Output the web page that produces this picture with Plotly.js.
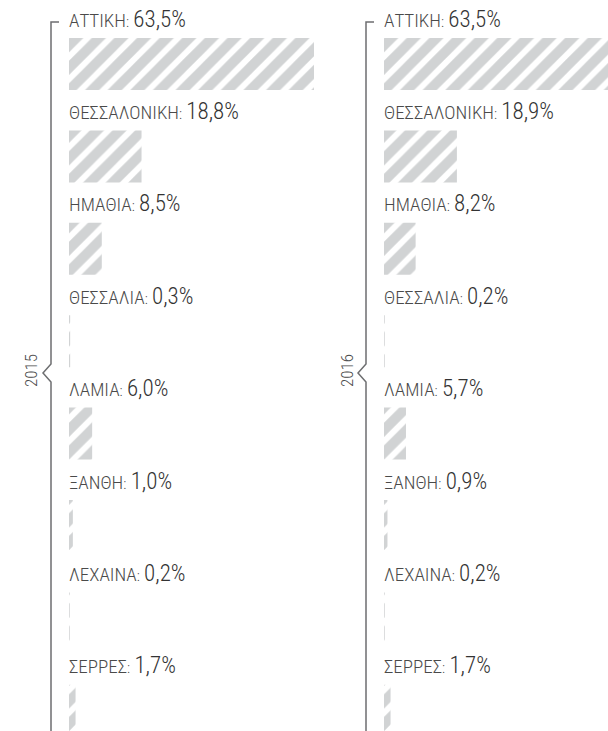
<!DOCTYPE html>
<html>
<head>
<meta charset="utf-8">
<script src="https://cdn.plot.ly/plotly-3.0.1.min.js"></script>
<style>html,body{margin:0;padding:0;background:#fff;}#chart{width:608px;height:731px;}</style>
</head>
<body>
<div id="chart"></div>
<script>
var regions = ["ΑΤΤΙΚΗ", "ΘΕΣΣΑΛΟΝΙΚΗ", "ΗΜΑΘΙΑ", "ΘΕΣΣΑΛΙΑ", "ΛΑΜΙΑ", "ΞΑΝΘΗ", "ΛΕΧΑΙΝΑ", "ΣΕΡΡΕΣ"];
var years = ["2015", "2016"];
var values2015 = [63.5, 18.8, 8.5, 0.3, 6.0, 1.0, 0.2, 1.7];
var values2016 = [63.5, 18.9, 8.2, 0.2, 5.7, 0.9, 0.2, 1.7];

var W = 608, H = 731;
var pxPerUnit = 245 / 63.5;
var rowPitch = 92.4, firstRow = 64;
function px(x) { return x / W; }
function py(y) { return 1 - y / H; }

var idx = regions.map(function (_, i) { return i; });
var pattern = { shape: '/', fgcolor: '#d1d3d4', bgcolor: '#ffffff', size: 16, solidity: 0.62 };

function barTrace(vals, xa) {
  return {
    type: 'bar', orientation: 'h', x: vals, y: idx, xaxis: xa, yaxis: 'y',
    width: 52 / rowPitch, hoverinfo: 'skip',
    marker: { color: '#ffffff', line: { width: 0 }, pattern: pattern }
  };
}

function fmt(v) { return v.toFixed(1).replace('.', ',') + '%'; }

var annotations = [];
[values2015, values2016].forEach(function (vals, k) {
  var xr = k === 0 ? 'x' : 'x2';
  vals.forEach(function (v, i) {
    annotations.push({
      xref: xr, yref: 'y', x: 0, y: i - 45 / rowPitch, xanchor: 'left', yanchor: 'middle',
      xshift: -2, showarrow: false,
      font: { size: 19, color: '#4a4a4a', weight: 300 },
      text: regions[i] + '<span style="font-size:15px">:</span> <span style="font-size:23px;color:#333">' + fmt(v) + '</span>'
    });
  });
});

var panels = [{ line: 51, tick: 59, point: 43, label: 31 }, { line: 366, tick: 374, point: 358, label: 347 }];
var shapes = [];
panels.forEach(function (p, k) {
  var path = 'M' + px(p.tick) + ',' + py(22) +
    ' L' + px(p.line) + ',' + py(22) +
    ' L' + px(p.line) + ',' + py(364) +
    ' L' + px(p.point) + ',' + py(373) +
    ' L' + px(p.line) + ',' + py(382) +
    ' L' + px(p.line) + ',' + py(735);
  shapes.push({ type: 'path', xref: 'paper', yref: 'paper', path: path, line: { color: '#6d6e70', width: 1.5 } });
  annotations.push({
    xref: 'paper', yref: 'paper', x: px(p.label), y: py(371), xanchor: 'center', yanchor: 'middle',
    showarrow: false, textangle: -90, text: years[k],
    font: { size: 17, color: '#4a4a4a', weight: 300 }
  });
});

var layout = {
  width: W, height: H, margin: { l: 0, r: 0, t: 0, b: 0 },
  paper_bgcolor: '#ffffff', plot_bgcolor: 'rgba(0,0,0,0)',
  showlegend: false, barmode: 'overlay',
  font: { family: '"Roboto Condensed", Roboto, sans-serif', color: '#333' },
  xaxis: { domain: [px(69), px(69 + 245)], range: [0, 245 / pxPerUnit], visible: false, fixedrange: true },
  xaxis2: { domain: [px(384), 1], range: [0, (W - 384) / pxPerUnit], visible: false, fixedrange: true, anchor: 'y' },
  yaxis: { domain: [0, 1], range: [7 + (H - firstRow - 7 * rowPitch) / rowPitch, -firstRow / rowPitch], visible: false, fixedrange: true, anchor: 'x' },
  shapes: shapes, annotations: annotations
};

Plotly.newPlot('chart', [barTrace(values2015, 'x'), barTrace(values2016, 'x2')], layout, { displayModeBar: false, staticPlot: true });
</script>
</body>
</html>
